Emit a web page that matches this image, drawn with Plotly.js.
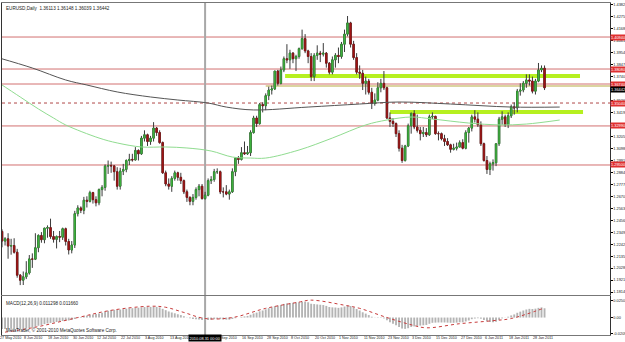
<!DOCTYPE html>
<html><head><meta charset="utf-8">
<script src="https://cdn.plot.ly/plotly-3.0.1.min.js"></script>
<style>html,body{margin:0;padding:0;background:#fff}#c{width:625px;height:342px}</style>
</head><body><div id="c"></div>
<script>
// EURUSD Daily, bar index 0 = 27 May 2010 ... 180 = 3 Feb 2011
const openP = [1.2200,1.2356,1.2270,1.2290,1.2225,1.2230,1.2170,1.1965,1.1920,1.1950,
1.1985,1.2110,1.2108,1.2210,1.2320,1.2282,1.2385,1.2390,1.2310,1.2285,
1.2310,1.2305,1.2380,1.2266,1.2190,1.2235,1.2515,1.2566,1.2545,1.2635,
1.2625,1.2703,1.2640,1.2612,1.2730,1.2750,1.2940,1.2945,1.2942,1.2890,
1.2760,1.2895,1.2910,1.2990,1.3000,1.2995,1.3080,1.3050,1.3190,1.3220,
1.3160,1.3190,1.3280,1.3240,1.3150,1.2880,1.2780,1.2760,1.2830,1.2880,
1.2840,1.2810,1.2710,1.2660,1.2625,1.2660,1.2730,1.2760,1.2650,1.2680,
1.2810,1.2820,1.2890,1.2890,1.2710,1.2710,1.2690,1.2710,1.2890,1.3010,
1.3000,1.3060,1.3050,1.3060,1.3240,1.3370,1.3320,1.3490,1.3480,1.3570,
1.3620,1.3630,1.3790,1.3680,1.3800,1.3900,1.3890,1.3950,1.3900,1.3920,
1.3990,1.4080,1.3970,1.3920,1.3740,1.3930,1.3950,1.3940,1.3950,1.3860,
1.3780,1.3890,1.3930,1.3920,1.4030,1.4120,1.4220,1.4030,1.3910,1.3780,
1.3770,1.3680,1.3700,1.3600,1.3500,1.3530,1.3640,1.3680,1.3640,1.3370,
1.3340,1.3320,1.3230,1.3100,1.2990,1.3120,1.3300,1.3410,1.3290,1.3260,
1.3230,1.3240,1.3220,1.3380,1.3385,1.3230,1.3230,1.3185,1.3160,1.3130,
1.3090,1.3100,1.3110,1.3150,1.3100,1.3240,1.3280,1.3380,1.3360,1.3310,
1.3140,1.2990,1.2910,1.2960,1.2970,1.3140,1.3360,1.3380,1.3310,1.3390,
1.3470,1.3460,1.3610,1.3620,1.3680,1.3710,1.3700,1.3610,1.3700,1.3800,
1.3815];
const highP = [1.2373,1.2375,1.2305,1.2340,1.2290,1.2295,1.2200,1.1975,1.1998,1.2090,
1.2145,1.2160,1.2340,1.2330,1.2350,1.2390,1.2410,1.2470,1.2360,1.2320,
1.2360,1.2390,1.2390,1.2290,1.2270,1.2540,1.2590,1.2580,1.2665,1.2670,
1.2720,1.2710,1.2670,1.2740,1.2770,1.2955,1.2990,1.2980,1.2950,1.2930,
1.2925,1.2960,1.3000,1.3050,1.3050,1.3110,1.3090,1.3210,1.3260,1.3230,
1.3210,1.3333,1.3290,1.3260,1.3160,1.2900,1.2830,1.2850,1.2900,1.2890,
1.2880,1.2820,1.2730,1.2670,1.2690,1.2750,1.2780,1.2780,1.2710,1.2830,
1.2850,1.2915,1.2920,1.2900,1.2750,1.2770,1.2730,1.2920,1.3020,1.3030,
1.3110,1.3160,1.3120,1.3260,1.3390,1.3390,1.3505,1.3510,1.3590,1.3650,
1.3660,1.3790,1.3800,1.3830,1.3920,1.4030,1.3980,1.3960,1.3935,1.4000,
1.4160,1.4120,1.3980,1.3950,1.3950,1.4020,1.3970,1.4040,1.3960,1.3870,
1.3920,1.3950,1.4000,1.4050,1.4160,1.4282,1.4230,1.4060,1.3950,1.3840,
1.3800,1.3740,1.3720,1.3640,1.3590,1.3690,1.3720,1.3790,1.3650,1.3420,
1.3370,1.3330,1.3260,1.3130,1.3130,1.3320,1.3420,1.3440,1.3400,1.3290,
1.3290,1.3280,1.3400,1.3420,1.3390,1.3250,1.3240,1.3220,1.3190,1.3140,
1.3140,1.3150,1.3170,1.3180,1.3260,1.3290,1.3400,1.3440,1.3420,1.3340,
1.3150,1.3030,1.2980,1.3000,1.3140,1.3380,1.3430,1.3400,1.3420,1.3490,
1.3510,1.3630,1.3680,1.3700,1.3760,1.3760,1.3740,1.3720,1.3862,1.3840,
1.3840];
const lowP = [1.2176,1.2214,1.2230,1.2112,1.2148,1.2158,1.1942,1.1876,1.1877,1.1930,
1.1970,1.2030,1.2100,1.2170,1.2255,1.2250,1.2300,1.2290,1.2256,1.2204,
1.2260,1.2280,1.2230,1.2150,1.2160,1.2208,1.2490,1.2520,1.2510,1.2570,
1.2615,1.2605,1.2580,1.2590,1.2670,1.2720,1.2870,1.2880,1.2810,1.2730,
1.2730,1.2860,1.2885,1.2950,1.2980,1.2990,1.2990,1.3040,1.3160,1.3120,
1.3130,1.3160,1.3210,1.3140,1.2870,1.2760,1.2730,1.2710,1.2810,1.2810,
1.2780,1.2690,1.2620,1.2590,1.2590,1.2640,1.2670,1.2640,1.2640,1.2670,
1.2780,1.2800,1.2870,1.2690,1.2660,1.2680,1.2640,1.2700,1.2850,1.2960,
1.2990,1.3040,1.3040,1.3030,1.3230,1.3290,1.3310,1.3420,1.3440,1.3530,
1.3580,1.3620,1.3660,1.3670,1.3780,1.3860,1.3810,1.3860,1.3790,1.3900,
1.3980,1.3950,1.3860,1.3700,1.3700,1.3890,1.3870,1.3920,1.3820,1.3760,
1.3760,1.3820,1.3860,1.3900,1.3960,1.4100,1.4000,1.3890,1.3760,1.3720,
1.3620,1.3580,1.3580,1.3450,1.3480,1.3520,1.3600,1.3620,1.3360,1.3290,
1.3290,1.3200,1.3070,1.2969,1.2980,1.3110,1.3230,1.3270,1.3240,1.3170,
1.3200,1.3200,1.3210,1.3360,1.3220,1.3170,1.3170,1.3120,1.3120,1.3060,
1.3080,1.3080,1.3110,1.3090,1.3090,1.3150,1.3250,1.3330,1.3290,1.3120,
1.2980,1.2870,1.2860,1.2900,1.2940,1.3120,1.3310,1.3290,1.3280,1.3370,
1.3400,1.3420,1.3570,1.3600,1.3640,1.3660,1.3590,1.3580,1.3690,1.3780,
1.3620];
const closeP = [1.2356,1.2270,1.2290,1.2225,1.2230,1.2170,1.1965,1.1920,1.1950,1.1985,
1.2110,1.2108,1.2210,1.2320,1.2282,1.2385,1.2390,1.2310,1.2285,1.2310,
1.2305,1.2380,1.2266,1.2190,1.2235,1.2515,1.2566,1.2545,1.2635,1.2625,
1.2703,1.2640,1.2612,1.2730,1.2750,1.2940,1.2945,1.2942,1.2890,1.2760,
1.2895,1.2910,1.2990,1.3000,1.2995,1.3080,1.3050,1.3190,1.3220,1.3160,
1.3190,1.3280,1.3240,1.3150,1.2880,1.2780,1.2760,1.2830,1.2880,1.2840,
1.2810,1.2710,1.2660,1.2625,1.2660,1.2730,1.2760,1.2650,1.2680,1.2810,
1.2820,1.2890,1.2890,1.2710,1.2710,1.2690,1.2710,1.2890,1.3010,1.3000,
1.3060,1.3050,1.3060,1.3240,1.3370,1.3320,1.3490,1.3480,1.3570,1.3620,
1.3630,1.3790,1.3680,1.3800,1.3900,1.3890,1.3950,1.3900,1.3920,1.3990,
1.4080,1.3970,1.3920,1.3740,1.3930,1.3950,1.3940,1.3950,1.3860,1.3780,
1.3890,1.3930,1.3920,1.4030,1.4120,1.4220,1.4030,1.3910,1.3780,1.3770,
1.3680,1.3700,1.3600,1.3500,1.3530,1.3640,1.3680,1.3640,1.3370,1.3340,
1.3320,1.3230,1.3100,1.2990,1.3120,1.3300,1.3410,1.3290,1.3260,1.3230,
1.3240,1.3220,1.3380,1.3385,1.3230,1.3230,1.3185,1.3160,1.3130,1.3090,
1.3100,1.3110,1.3150,1.3100,1.3240,1.3280,1.3380,1.3360,1.3310,1.3140,
1.2990,1.2910,1.2960,1.2970,1.3140,1.3360,1.3380,1.3310,1.3390,1.3470,
1.3460,1.3610,1.3620,1.3680,1.3710,1.3700,1.3610,1.3700,1.3800,1.3815,
1.3640];

// Moving averages (bar index, price)
const maSlowIdx = [0,11,22,29,39,50,59,69,75,84,102,119,132,149,169,185];
const maSlowVal = [1.3907,1.3817,1.3710,1.3665,1.3603,1.3558,1.3531,1.3504,1.3468,1.3442,1.3468,1.3495,1.3513,1.3495,1.3468,1.3468];
const maFastIdx = [0,7,13,18,22,33,39,47,55,62,70,77,83,88,99,110,121,128,136,143,155,165,174,185];
const maFastVal = [1.3683,1.3558,1.3451,1.3370,1.3308,1.3191,1.3147,1.3111,1.3111,1.3102,1.3075,1.3021,1.3012,1.3012,1.3084,1.3191,1.3308,1.3352,1.3379,1.3361,1.3325,1.3308,1.3316,1.3352];

// MACD(12,26,9) main value per bar
const macdMain = [-0.0140,-0.0140,-0.0139,-0.0139,-0.0138,-0.0139,-0.0142,-0.0143,-0.0140,-0.0136,
-0.0130,-0.0122,-0.0112,-0.0100,-0.0090,-0.0080,-0.0072,-0.0066,-0.0060,-0.0054,
-0.0048,-0.0042,-0.0038,-0.0036,-0.0030,-0.0018,-0.0005,0.0006,0.0016,0.0024,
0.0032,0.0038,0.0042,0.0050,0.0058,0.0072,0.0082,0.0090,0.0094,0.0094,
0.0098,0.0102,0.0108,0.0112,0.0114,0.0118,0.0120,0.0124,0.0128,0.0128,
0.0130,0.0132,0.0130,0.0124,0.0106,0.0090,0.0074,0.0062,0.0052,0.0040,
0.0030,0.0016,0.0002,-0.0010,-0.0018,-0.0022,-0.0024,-0.0030,-0.0032,-0.0030,
-0.0026,-0.0020,-0.0016,-0.0020,-0.0024,-0.0026,-0.0026,-0.0018,-0.0008,0.0000,
0.0008,0.0014,0.0020,0.0034,0.0050,0.0060,0.0076,0.0086,0.0100,0.0114,
0.0124,0.0140,0.0144,0.0154,0.0166,0.0172,0.0178,0.0180,0.0182,0.0186,
0.0194,0.0192,0.0186,0.0168,0.0164,0.0160,0.0156,0.0152,0.0142,0.0128,
0.0124,0.0122,0.0118,0.0124,0.0134,0.0146,0.0140,0.0124,0.0104,0.0086,
0.0064,0.0048,0.0030,0.0010,-0.0002,-0.0004,-0.0004,-0.0010,-0.0034,-0.0056,
-0.0074,-0.0094,-0.0114,-0.0134,-0.0138,-0.0130,-0.0114,-0.0108,-0.0102,-0.0098,
-0.0094,-0.0090,-0.0076,-0.0064,-0.0062,-0.0060,-0.0060,-0.0060,-0.0062,-0.0064,
-0.0064,-0.0062,-0.0058,-0.0058,-0.0048,-0.0036,-0.0020,-0.0012,-0.0008,-0.0014,
-0.0030,-0.0046,-0.0054,-0.0058,-0.0050,-0.0028,-0.0010,-0.0002,0.0010,0.0026,
0.0038,0.0058,0.0072,0.0086,0.0098,0.0106,0.0104,0.0108,0.0118,0.0124,
0.0113];
const sigIdx = [0,11,26,37,50,55,61,68,77,88,99,103,114,119,128,136,141,152,163,169,180];
const sigVal = [-0.0188,-0.0125,0.0000,0.0088,0.0138,0.0125,0.0062,-0.0012,0.0000,0.0112,0.0188,0.0212,0.0150,0.0112,0.0000,-0.0088,-0.0125,-0.0075,-0.0038,-0.0012,0.0117];

// Horizontal levels drawn on the chart
const redLevels = [1.4094, 1.3808, 1.3674, 1.3299, 1.2950];
const redLevelText = ["1.40940","1.38080","1.36740","1.32990","1.29500"];
const dottedLevel = 1.3504;
const oliveLevel = 1.3656;
const zoneLevels = [1.3746, 1.3424];
const zoneStart = [94.4, 129];
const zoneEnd = [191.7, 192.7];
const markerBar = 68;

// Axis labels (the 25 Aug 2010 label sits under the cursor date box)
const xLabelIdx = [0,8,16,24,32,40,48,56,72,80,88,96,104,112,120,128,136,144,152,160,168,176];
const xLabelText = ["27 May 2010","8 Jun 2010","18 Jun 2010","30 Jun 2010","12 Jul 2010","22 Jul 2010","3 Aug 2010","13 Aug 2010","6 Sep 2010","16 Sep 2010","28 Sep 2010","8 Oct 2010","20 Oct 2010","1 Nov 2010","11 Nov 2010","23 Nov 2010","3 Dec 2010","15 Dec 2010","27 Dec 2010","6 Jan 2011","18 Jan 2011","28 Jan 2011"];
const yTickVals = [1.43820,1.42750,1.41680,1.40610,1.39540,1.38470,1.37400,1.36330,1.35260,1.34190,1.33120,1.32050,1.30980,1.29910,1.28840,1.27770,1.26700,1.25630,1.24560,1.23490,1.22420,1.21350,1.20280,1.19210,1.18140];

const X0 = 0.99, X1 = 201.6;
const idx = openP.map((_, i) => i);
const bodyHi = openP.map((o, i) => Math.max(o, closeP[i]));
const bodyLo = openP.map((o, i) => Math.min(o, closeP[i]));

const traces = [
  {type:'candlestick', x: idx, open: openP, high: highP, low: lowP, close: closeP,
   increasing:{line:{color:'#3a3a3a', width:1}, fillcolor:'#3a3a3a'},
   decreasing:{line:{color:'#3a3a3a', width:1}, fillcolor:'#3a3a3a'},
   xaxis:'x', yaxis:'y', hoverinfo:'skip', showlegend:false},
  {type:'candlestick', x: idx, open: openP, high: bodyHi, low: bodyLo, close: closeP,
   increasing:{line:{color:'#2f9a2f', width:0.6}, fillcolor:'#45bb45'},
   decreasing:{line:{color:'#8c1010', width:0.6}, fillcolor:'#a81515'},
   xaxis:'x', yaxis:'y', hoverinfo:'skip', showlegend:false},
  {type:'scatter', mode:'lines', x: maSlowIdx, y: maSlowVal, line:{color:'#555555', width:1, shape:'spline'},
   xaxis:'x', yaxis:'y', hoverinfo:'skip', showlegend:false},
  {type:'scatter', mode:'lines', x: maFastIdx, y: maFastVal, line:{color:'#90dc90', width:1, shape:'spline'},
   xaxis:'x', yaxis:'y', hoverinfo:'skip', showlegend:false},
  {type:'bar', x: idx, y: macdMain, marker:{color:'#b4b4b4'}, width:0.62,
   xaxis:'x2', yaxis:'y2', hoverinfo:'skip', showlegend:false},
  {type:'scatter', mode:'lines', x: sigIdx, y: sigVal, line:{color:'#c83c3c', width:1, dash:'dot', shape:'spline'},
   xaxis:'x2', yaxis:'y2', hoverinfo:'skip', showlegend:false}
];

const shapes = [];
redLevels.forEach(v => shapes.push({type:'line', xref:'x domain', x0:0, x1:1, yref:'y', y0:v, y1:v, line:{color:'#d27070', width:1}, layer:'below'}));
shapes.push({type:'line', xref:'x domain', x0:0, x1:1, yref:'y', y0:dottedLevel, y1:dottedLevel, line:{color:'#b04848', width:1, dash:'dot'}, layer:'below'});
shapes.push({type:'line', xref:'x', x0:88, x1:X1, yref:'y', y0:oliveLevel, y1:oliveLevel, line:{color:'#cfc680', width:1.5}, layer:'below'});
zoneLevels.forEach((v, k) => shapes.push({type:'line', xref:'x', x0:zoneStart[k], x1:zoneEnd[k], yref:'y', y0:v, y1:v, line:{color:'#b6f020', width:4}, layer:'below'}));
shapes.push({type:'line', xref:'x', x0:markerBar, x1:markerBar, yref:'paper', y0:0, y1:1, line:{color:'#a8a8a8', width:2}, layer:'below'});

const FAM = 'Liberation Sans, Arial, sans-serif';
const tinyFont = {family:FAM, size:4.6, color:'#222'};
const axFont = {family:FAM, size:3.9, color:'#222'};
const xFont = {family:FAM, size:3.7, color:'#222'};
const annotations = [];
annotations.push({xref:'paper', yref:'paper', x:0.003, y:0.997, xanchor:'left', yanchor:'top', showarrow:false,
  text:'EURUSD,Daily  1.36113 1.36148 1.36039 1.36442', font:tinyFont});
annotations.push({xref:'paper', yref:'paper', x:0.003, y:0.108, xanchor:'left', yanchor:'top', showarrow:false,
  text:'MACD(12,26,9) 0.011298 0.011660', font:tinyFont});
annotations.push({xref:'paper', yref:'paper', x:0.003, y:0.014, xanchor:'left', yanchor:'middle', showarrow:false,
  text:'MetaTrader, © 2001-2010 MetaQuotes Software Corp.', font:tinyFont});
xLabelIdx.forEach((b, k) => annotations.push({xref:'paper', yref:'paper', x:(b - X0) / (X1 - X0), y:-0.009, xanchor:'left', yanchor:'middle', xshift:0,
  showarrow:false, text:xLabelText[k], font:xFont, borderpad:0}));
annotations.push({xref:'paper', yref:'paper', x:(markerBar - X0) / (X1 - X0), y:-0.009, xanchor:'center', yanchor:'middle', showarrow:false,
  text:'2010.08.31 00:00', bgcolor:'#000', borderpad:0.5, font:{family:FAM, size:3.9, color:'#fff'}});
redLevels.forEach((v, k) => annotations.push({xref:'paper', yref:'y', x:1, y:v, xanchor:'left', yanchor:'middle', xshift:0, showarrow:false,
  text:redLevelText[k], bgcolor:'#e03030', borderpad:0, font:{family:FAM, size:3.9, color:'#fff'}}));
annotations.push({xref:'paper', yref:'y', x:1, y:dottedLevel, xanchor:'left', yanchor:'middle', xshift:0, showarrow:false,
  text:'1.35040', bgcolor:'#e03030', borderpad:0, font:{family:FAM, size:3.9, color:'#fff'}});
annotations.push({xref:'paper', yref:'y', x:1, y:oliveLevel, xanchor:'left', yanchor:'top', xshift:0, showarrow:false,
  text:'1.36442', bgcolor:'#000', borderpad:0, font:{family:FAM, size:3.9, color:'#fff'}});

const layout = {
  width:625, height:342, margin:{l:2, r:15, t:3, b:7},
  paper_bgcolor:'#fff', plot_bgcolor:'#fff', showlegend:false,
  xaxis:{range:[X0, X1], showgrid:false, zeroline:false, showticklabels:false, showline:true, mirror:true,
         linecolor:'#777', linewidth:1, rangeslider:{visible:false}, anchor:'y', fixedrange:true},
  xaxis2:{range:[X0, X1], matches:'x', showgrid:false, zeroline:false, showticklabels:false, showline:true, mirror:true,
          linecolor:'#777', linewidth:1, anchor:'y2'},
  yaxis:{domain:[0.1205, 1], range:[1.17877, 1.43982], side:'right', showgrid:false, zeroline:false,
         tickvals:yTickVals, ticktext:yTickVals.map(v => v.toFixed(5)), ticks:'outside', ticklen:1.5, tickcolor:'#000',
         tickfont:axFont, showline:true, mirror:true, linecolor:'#333', linewidth:1},
  yaxis2:{domain:[0, 0.1175], range:[-0.02125, 0.02625], side:'right', showgrid:false, zeroline:false,
          tickvals:[0.0212, 0, -0.0200], ticktext:['0.02506','0.00','-0.0209'], ticks:'outside', ticklen:1.5, tickcolor:'#000',
          tickfont:axFont, showline:true, mirror:true, linecolor:'#333', linewidth:1},
  shapes: shapes, annotations: annotations, bargap:0.3
};
Plotly.newPlot('c', traces, layout, {staticPlot:true, displayModeBar:false});
</script>
</body></html>
